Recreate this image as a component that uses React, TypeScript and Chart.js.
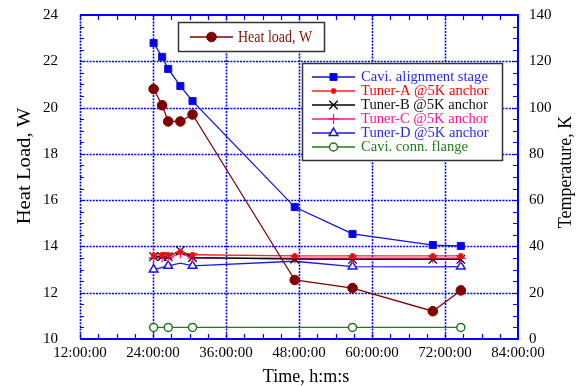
import React, { useEffect, useRef } from 'react';
import { Chart, registerables } from 'chart.js';
import { drawPoint } from 'chart.js/helpers';

Chart.register(...registerables);

// ---- data (hours since start, values) ----
const times = [24.1, 25.5, 26.5, 28.5, 30.5, 47.3, 56.8, 70.0, 74.6];
const heatLoad = [20.8, 20.1, 19.4, 19.4, 19.7, 12.55, 12.2, 11.2, 12.1];
const caviAlign = [127.9, 121.9, 116.7, 109.3, 102.8, 57.0, 45.4, 40.6, 40.2];
const tunerA = [36.2, 36.4, 36.4, 37.6, 36.4, 35.9, 35.9, 35.9, 35.9];
const tunerB = [35.6, 35.6, 35.6, 38.2, 35.2, 34.5, 34.4, 34.4, 34.4];
const tunerC = [35.0, 35.2, 35.0, 37.0, 35.0, 34.9, 34.9, 34.9, 34.9];
const tunerD = [30.0, 31.0, 31.6, 32.8, 31.6, 33.6, 31.3, 31.2, 31.3];
const tunerDMarked = [true, false, true, false, true, false, true, false, true];
const caviConn = [5, null, 5, null, 5, null, 5, null, 5];

const xTickHours = [12, 24, 36, 48, 60, 72, 84];
const leftTicks = [10, 12, 14, 16, 18, 20, 22, 24];
const rightTicks = [0, 20, 40, 60, 80, 100, 120, 140];

const FONT = '"Liberation Serif", "Times New Roman", serif';

const fmtTime = (h: number) => `${h}:00:00`;
const pts = (vals: (number | null)[]) => times.map((t, i) => ({ x: t, y: vals[i] }));

const framePlugin = {
  id: 'frame',
  beforeDatasetsDraw(chart: any) {
    const { ctx, chartArea } = chart;
    const { left, right, top, bottom } = chartArea;
    const sx = chart.scales.x, sy = chart.scales.y, sy1 = chart.scales.y1;
    ctx.save();
    ctx.strokeStyle = '#0000ff';
    ctx.lineWidth = 1.6;
    ctx.setLineDash([2, 1.2]);
    ctx.beginPath();
    for (const v of leftTicks) {
      if (v <= sy.min || v >= sy.max) continue;
      const y = Math.round(sy.getPixelForValue(v)) + 0.5;
      ctx.moveTo(left, y); ctx.lineTo(right, y);
    }
    for (const v of xTickHours) {
      if (v <= sx.min || v >= sx.max) continue;
      const x = Math.round(sx.getPixelForValue(v)) + 0.5;
      ctx.moveTo(x, top); ctx.lineTo(x, bottom);
    }
    ctx.stroke();
    // left border dotted
    ctx.beginPath();
    ctx.moveTo(left + 0.5, top); ctx.lineTo(left + 0.5, bottom);
    ctx.stroke();
    ctx.setLineDash([]);
    // minor ticks
    ctx.lineWidth = 1.2;
    ctx.beginPath();
    for (let h = sx.min; h <= sx.max; h += 3) {
      const x = Math.round(sx.getPixelForValue(h)) + 0.5;
      ctx.moveTo(x, bottom); ctx.lineTo(x, bottom - 5);
      ctx.moveTo(x, top); ctx.lineTo(x, top + 5);
    }
    for (let v = sy1.min; v <= sy1.max; v += 5) {
      const y = Math.round(sy1.getPixelForValue(v)) + 0.5;
      ctx.moveTo(right, y); ctx.lineTo(right - 5, y);
    }
    for (let v = sy.min; v <= sy.max; v += 0.5) {
      const y = Math.round(sy.getPixelForValue(v)) + 0.5;
      ctx.moveTo(left, y); ctx.lineTo(left + 4, y);
    }
    ctx.stroke();
    // frame (top, right, bottom)
    ctx.lineWidth = 2;
    ctx.beginPath();
    ctx.moveTo(left, top); ctx.lineTo(right, top); ctx.lineTo(right, bottom); ctx.lineTo(left, bottom);
    ctx.stroke();
    ctx.restore();
  },
  afterDraw(chart: any) {
    const { ctx } = chart;
    const ds = chart.data.datasets;
    ctx.save();
    // axis titles
    ctx.fillStyle = '#000';
    ctx.font = `18px ${FONT}`;
    ctx.textAlign = 'center';
    ctx.textBaseline = 'middle';
    ctx.fillText('Time, h:m:s', 306, 377);
    ctx.save();
    ctx.translate(25, 166);
    ctx.rotate(-Math.PI / 2);
    ctx.scale(1.15, 1);
    ctx.fillText('Heat Load, W', 0, 0);
    ctx.restore();
    ctx.save();
    ctx.translate(566, 172);
    ctx.rotate(-Math.PI / 2);
    ctx.fillText('Temperature, K', 0, 0);
    ctx.restore();

    const sample = (d: any, x0: number, x1: number, y: number) => {
      ctx.strokeStyle = d.borderColor;
      ctx.lineWidth = 1.5;
      ctx.beginPath();
      ctx.moveTo(x0, y); ctx.lineTo(x1, y);
      ctx.stroke();
      ctx.fillStyle = d.pointBackgroundColor || d.backgroundColor;
      ctx.strokeStyle = d.borderColor;
      ctx.lineWidth = d.pointBorderWidth;
      const r = Array.isArray(d.pointRadius) ? d.legendRadius : d.pointRadius;
      drawPoint(ctx, { pointStyle: d.pointStyle, radius: r, rotation: 0, borderWidth: d.pointBorderWidth }, (x0 + x1) / 2, y);
    };

    // legend 1: heat load
    ctx.fillStyle = '#ffffff';
    ctx.fillRect(178, 22, 147, 29);
    ctx.strokeStyle = '#333';
    ctx.lineWidth = 1.5;
    ctx.strokeRect(178.5, 22.5, 146, 29);
    sample(ds[0], 190, 233, 37);
    ctx.save();
    ctx.font = `14px ${FONT}`;
    ctx.textAlign = 'left';
    ctx.textBaseline = 'middle';
    ctx.fillStyle = ds[0].legendColor;
    ctx.translate(238, 37.5);
    ctx.scale(1, 1.15);
    ctx.fillText(ds[0].label, 0, 0);
    ctx.restore();

    // legend 2: temperatures
    ctx.fillStyle = '#ffffff';
    ctx.fillRect(302, 63, 201, 98);
    ctx.strokeStyle = '#333';
    ctx.lineWidth = 1.5;
    ctx.strokeRect(302.5, 63.5, 200, 97);
    ctx.font = `14.6px ${FONT}`;
    for (let i = 1; i < ds.length; i++) {
      const y = 77 + (i - 1) * 14;
      sample(ds[i], 312, 355, y);
      ctx.fillStyle = ds[i].legendColor;
      ctx.textAlign = 'left';
      ctx.textBaseline = 'middle';
      ctx.fillText(ds[i].label, 361, y + 0.5);
    }
    ctx.restore();
  },
};

export default function App() {
  const ref = useRef<HTMLCanvasElement>(null);
  useEffect(() => {
    if (!ref.current) return;
    const tickFont = { family: FONT, size: 15 };
    const chart = new Chart(ref.current, {
      type: 'line',
      data: {
        datasets: [
          {
            label: 'Heat load, W', data: pts(heatLoad), yAxisID: 'y',
            borderColor: '#800000', backgroundColor: '#800000', pointBackgroundColor: '#800000',
            legendColor: '#8b1010',
            pointStyle: 'circle', pointRadius: 4.8, pointBorderWidth: 1, borderWidth: 1.3,
          },
          {
            label: 'Cavi. alignment stage', data: pts(caviAlign), yAxisID: 'y1',
            borderColor: '#1010e0', backgroundColor: '#0000ee', pointBackgroundColor: '#0000ee',
            legendColor: '#2a2aee',
            pointStyle: 'rect', pointRadius: 5, pointBorderWidth: 1, borderWidth: 1.3,
          },
          {
            label: 'Tuner-A @5K anchor', data: pts(tunerA), yAxisID: 'y1',
            borderColor: '#ff2020', backgroundColor: '#ff0000', pointBackgroundColor: '#ff0000',
            legendColor: '#ff0000',
            pointStyle: 'circle', pointRadius: 2.5, pointBorderWidth: 1, borderWidth: 1.3,
          },
          {
            label: 'Tuner-B @5K anchor', data: pts(tunerB), yAxisID: 'y1',
            borderColor: '#000000', backgroundColor: '#000000', pointBackgroundColor: '#000000',
            legendColor: '#111111',
            pointStyle: 'crossRot', pointRadius: 6, pointBorderWidth: 1.3, borderWidth: 1.3,
          },
          {
            label: 'Tuner-C @5K anchor', data: pts(tunerC), yAxisID: 'y1',
            borderColor: '#ff1493', backgroundColor: '#ff1493', pointBackgroundColor: '#ff1493',
            legendColor: '#ff1493',
            pointStyle: 'cross', pointRadius: 5, pointBorderWidth: 1.3, borderWidth: 1.3,
          },
          {
            label: 'Tuner-D @5K anchor', data: pts(tunerD), yAxisID: 'y1',
            borderColor: '#1a1ae6', backgroundColor: '#ffffff', pointBackgroundColor: '#ffffff',
            legendColor: '#2a2aee', legendRadius: 5,
            pointStyle: 'triangle', pointRadius: tunerDMarked.map((m) => (m ? 5 : 0)),
            pointBorderWidth: 1.5, borderWidth: 1.3,
          },
          {
            label: 'Cavi. conn. flange', data: pts(caviConn), yAxisID: 'y1', spanGaps: true,
            borderColor: '#1f7a1f', backgroundColor: '#ffffff', pointBackgroundColor: '#ffffff',
            legendColor: '#1f7a1f',
            pointStyle: 'circle', pointRadius: 4, pointBorderWidth: 1.5, borderWidth: 1.3,
          },
        ] as any,
      },
      options: {
        animation: false,
        responsive: false,
        maintainAspectRatio: false,
        layout: { padding: { top: 15, left: 0, right: 0, bottom: 0 } },
        plugins: { legend: { display: false }, tooltip: { enabled: false } },
        scales: {
          x: {
            type: 'linear', position: 'bottom', min: 12, max: 84,
            grid: { display: false, drawTicks: false }, border: { display: false },
            afterBuildTicks: (s: any) => { s.ticks = xTickHours.map((v) => ({ value: v })); },
            afterFit: (s: any) => { s.height = 47; s.paddingLeft = 0; s.paddingRight = 0; },
            ticks: { font: tickFont, color: '#000', padding: 5, maxRotation: 0, autoSkip: false, callback: (v: any) => fmtTime(Number(v)) },
          },
          y: {
            type: 'linear', position: 'left', min: 10, max: 24,
            grid: { display: false, drawTicks: false }, border: { display: false },
            afterBuildTicks: (s: any) => { s.ticks = leftTicks.map((v) => ({ value: v })); },
            afterFit: (s: any) => { s.width = 80; s.paddingTop = 0; s.paddingBottom = 0; },
            ticks: { font: tickFont, color: '#000', padding: 22 },
          },
          y1: {
            type: 'linear', position: 'right', min: 0, max: 140,
            grid: { display: false, drawTicks: false }, border: { display: false },
            afterBuildTicks: (s: any) => { s.ticks = rightTicks.map((v) => ({ value: v })); },
            afterFit: (s: any) => { s.width = 64; s.paddingTop = 0; s.paddingBottom = 0; },
            ticks: { font: tickFont, color: '#000', padding: 11 },
          },
        },
      } as any,
      plugins: [framePlugin],
    });
    return () => chart.destroy();
  }, []);
  return (
    <div style={{ position: 'absolute', left: 0, top: 0, width: 582, height: 386, background: '#fff' }}>
      <canvas ref={ref} width={582} height={386} style={{ display: 'block' }} />
    </div>
  );
}
